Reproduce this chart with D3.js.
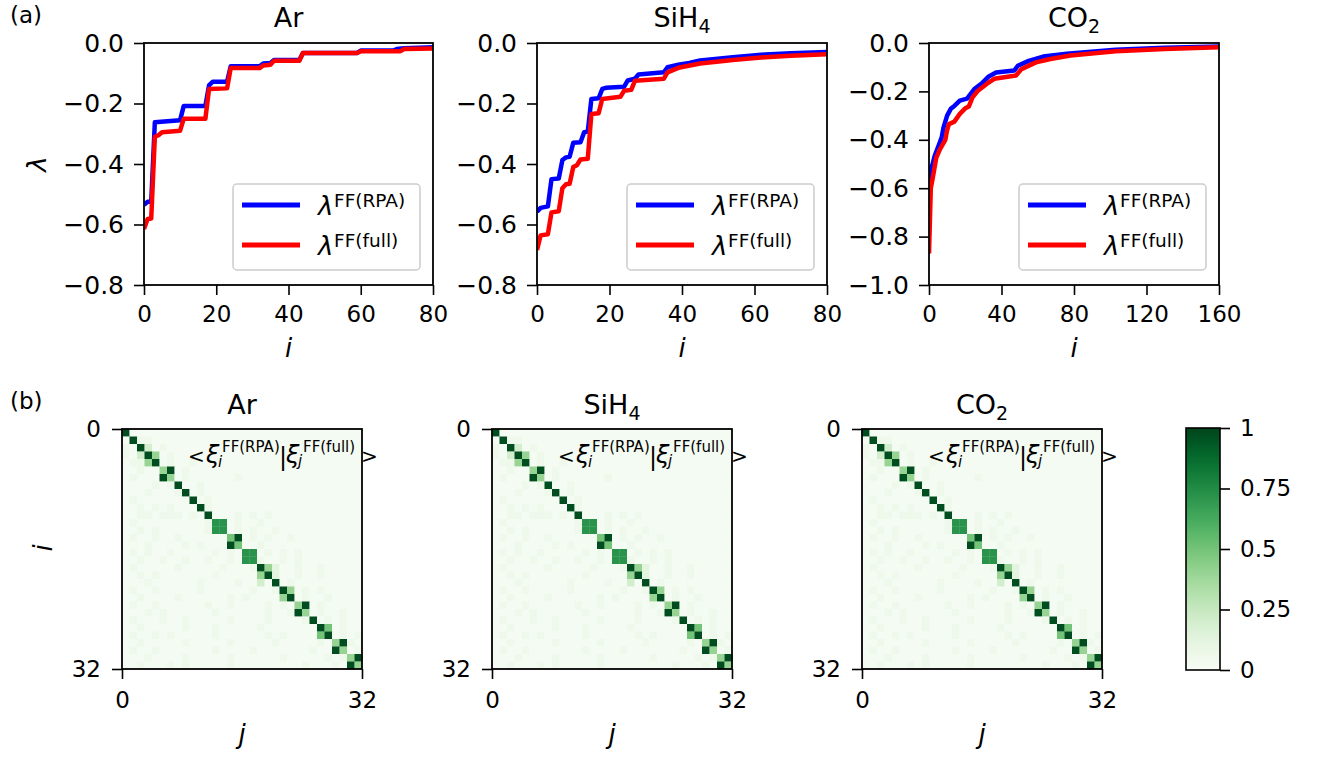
<!DOCTYPE html>
<html>
<head>
<meta charset="utf-8">
<script src="https://cdn.jsdelivr.net/npm/d3@7"></script>
<style>
  body { margin: 0; background: #fff; }
  svg text { font-family: "DejaVu Sans", sans-serif; fill: #000; }
</style>
</head>
<body>
<div id="chart"></div>
<script>
// ---- data ----
const titles = [["Ar", ""], ["SiH", "4"], ["CO", "2"]];

// eigenvalues lambda vs index i, [i, lambda]
const arRPA = [[0,-0.535],[1,-0.525],[2,-0.525],[3,-0.262],[10,-0.255],[11,-0.208],[17,-0.208],[18,-0.14],[19,-0.128],[23,-0.128],[24,-0.077],[32,-0.077],[33,-0.068],[35,-0.066],[36,-0.056],[43,-0.056],[44,-0.033],[59,-0.033],[60,-0.025],[69,-0.025],[70,-0.02],[72,-0.017],[80,-0.014]];
const arFull = [[0,-0.615],[1,-0.582],[2,-0.58],[3,-0.31],[4,-0.305],[5,-0.295],[10,-0.29],[11,-0.25],[17,-0.25],[18,-0.152],[23,-0.15],[24,-0.083],[32,-0.083],[33,-0.074],[35,-0.072],[36,-0.059],[43,-0.059],[44,-0.033],[59,-0.033],[60,-0.027],[71,-0.027],[72,-0.02],[80,-0.018]];

const siRPA = [[0,-0.558],[1,-0.545],[3,-0.54],[4,-0.45],[6,-0.448],[7,-0.387],[8,-0.378],[9,-0.376],[10,-0.33],[12,-0.328],[13,-0.295],[14,-0.293],[15,-0.185],[17,-0.183],[18,-0.152],[19,-0.148],[24,-0.145],[25,-0.124],[27,-0.118],[28,-0.104],[35,-0.097],[36,-0.08],[39,-0.072],[42,-0.066],[45,-0.058],[54,-0.047],[63,-0.038],[70,-0.034],[80,-0.03]];
const siFull = [[0,-0.684],[1,-0.636],[3,-0.632],[4,-0.56],[6,-0.556],[7,-0.48],[8,-0.467],[9,-0.465],[10,-0.41],[11,-0.404],[12,-0.385],[14,-0.383],[15,-0.235],[17,-0.232],[18,-0.185],[23,-0.178],[24,-0.158],[26,-0.155],[27,-0.125],[35,-0.118],[36,-0.097],[39,-0.082],[45,-0.068],[54,-0.056],[63,-0.047],[70,-0.042],[80,-0.037]];

const coRPA = [[0,-0.58],[1,-0.52],[2,-0.5],[3,-0.47],[4,-0.45],[5,-0.43],[6,-0.41],[7,-0.39],[8,-0.35],[10,-0.3],[12,-0.272],[14,-0.26],[17,-0.238],[21,-0.23],[23,-0.21],[25,-0.19],[29,-0.168],[33,-0.138],[37,-0.122],[47,-0.114],[49,-0.094],[55,-0.074],[63,-0.056],[76,-0.044],[103,-0.028],[130,-0.02],[160,-0.014]];
const coFull = [[0,-0.87],[1,-0.6],[2,-0.56],[4,-0.475],[6,-0.44],[9,-0.4],[10,-0.36],[11,-0.335],[14,-0.325],[17,-0.293],[20,-0.27],[22,-0.262],[24,-0.225],[27,-0.197],[32,-0.168],[36,-0.148],[48,-0.134],[51,-0.108],[59,-0.08],[67,-0.066],[78,-0.052],[103,-0.034],[130,-0.025],[160,-0.018]];

const rpaSeries = [arRPA, siRPA, coRPA];
const fullSeries = [arFull, siFull, coFull];

const xDomains = [[0, 80], [0, 80], [0, 160]];
const yDomains = [[-0.8, 0], [-0.8, 0], [-1.0, 0]];
const xTickVals = [[0, 20, 40, 60, 80], [0, 20, 40, 60, 80], [0, 40, 80, 120, 160]];
const yTickVals = [[0, -0.2, -0.4, -0.6, -0.8], [0, -0.2, -0.4, -0.6, -0.8], [0, -0.2, -0.4, -0.6, -0.8, -1.0]];

// overlap |<xi_i^RPA | xi_j^full>|, one string per row i, one char per column j
// (the three panels look the same in the figure)
const levelValue = { ".": 0.02, "1": 0.06, "2": 0.12, "3": 0.2, "5": 0.4, "6": 0.5, "8": 0.72, "9": 0.97 };
const overlapRows = [
  "9",
  ".911",
  "1.93.1",
  "1.395.1",
  ".1159.1..1",
  "..1..59.1",
  ".1...95.1......1",
  "....1.19..1",
  "...1...19.1",
  ".1.......9.1",
  "..1.1.1...91",
  "..11.111.1.9...1.1.1",
  ".1.........188.1..1",
  "..1.1......188.1.1..1",
  ".1..1..1......69.1.1..1",
  "...1....1.1...96..1",
  ".1.1..1.....1.1.88.1.1.1",
  "..1..1..1..1..1.881..1.1",
  ".1.....1.....1...1952..1..1",
  "..1.1.......1.....592..1..1",
  "...1......1....1..3.9.1",
  ".1..1.....1......1..195.1.1",
  "..1....1......1.1....59.1..1",
  ".1..1......1..1....1.1.59.1",
  "...1.1......1......1..195.1..1",
  ".1...1..1.....1....1....19.1.1",
  "..1.....1...1.....1.......96.1",
  ".1..1.1.....1......1.1....69.1.1",
  "..1.....1.....1.....1.....1.591",
  ".1..1.......1....1.......1..95.1",
  "...1....1.....1......1.....1.159",
  "..1...1.1.....1.........1...1.95"
];
const nStates = 32;
const cbTicks = [0, 0.25, 0.5, 0.75, 1];
const cbLabels = ["0", "0.25", "0.5", "0.75", "1"];

// ---- layout ----
const W = 1322, H = 757;
const lineX = [[144, 433], [537, 827], [929, 1219]];
const lineTop = 43, lineBottom = 285;
const heatLeft = [122, 492, 862];
const heatTop = 429, heatSize = 240;

const svg = d3.select("#chart").append("svg")
  .attr("width", W).attr("height", H)
  .style("background", "#fff");

function styleAxis(sel, fontSize) {
  sel.select(".domain").remove();
  sel.selectAll(".tick line").attr("stroke", "#000").attr("stroke-width", 1.6);
  sel.selectAll(".tick text")
    .attr("font-size", fontSize)
    .attr("font-family", "DejaVu Sans")
    .attr("fill", "#000");
}

function title(x, y, parts) {
  const t = svg.append("text")
    .attr("x", x).attr("y", y)
    .attr("text-anchor", "middle")
    .attr("font-size", 27);
  t.append("tspan").text(parts[0]);
  if (parts[1]) t.append("tspan").attr("font-size", 19).attr("dy", 6).text(parts[1]);
}

// panel labels
svg.append("text").attr("x", 10).attr("y", 23).attr("font-size", 23).text("(a)");
svg.append("text").attr("x", 10).attr("y", 409).attr("font-size", 23).text("(b)");

// ---- (a) eigenvalue curves ----
rpaSeries.forEach((rpa, k) => {
  const x = d3.scaleLinear().domain(xDomains[k]).range(lineX[k]);
  const y = d3.scaleLinear().domain(yDomains[k]).range([lineBottom, lineTop]);
  const g = svg.append("g");

  g.append("clipPath").attr("id", "clip" + k)
    .append("rect")
    .attr("x", lineX[k][0]).attr("y", lineTop)
    .attr("width", lineX[k][1] - lineX[k][0]).attr("height", lineBottom - lineTop);

  const line = d3.line().x(d => x(d[0])).y(d => y(d[1]));

  [[rpa, "#0000ff"], [fullSeries[k], "#ff0000"]].forEach(([data, col]) => {
    g.append("path")
      .datum(data)
      .attr("d", line)
      .attr("fill", "none")
      .attr("stroke", col)
      .attr("stroke-width", 4.5)
      .attr("stroke-linejoin", "round")
      .attr("clip-path", `url(#clip${k})`);
  });

  // axes
  g.append("g")
    .attr("transform", `translate(0,${lineBottom})`)
    .call(d3.axisBottom(x).tickValues(xTickVals[k]).tickSize(10).tickPadding(11).tickSizeOuter(0).tickFormat(d3.format("d")))
    .call(s => styleAxis(s, 23));
  g.append("g")
    .attr("transform", `translate(${lineX[k][0]},0)`)
    .call(d3.axisLeft(y).tickValues(yTickVals[k]).tickSize(10).tickPadding(10).tickSizeOuter(0).tickFormat(d3.format(".1f")))
    .call(s => styleAxis(s, 25));

  g.append("rect")
    .attr("x", lineX[k][0]).attr("y", lineTop)
    .attr("width", lineX[k][1] - lineX[k][0]).attr("height", lineBottom - lineTop)
    .attr("fill", "none").attr("stroke", "#000").attr("stroke-width", 1.8);

  // legend
  const bx = lineX[k][1] - 200, by = 184;
  const lg = g.append("g").attr("transform", `translate(${bx},${by})`);
  lg.append("rect")
    .attr("width", 187).attr("height", 86).attr("rx", 4)
    .attr("fill", "#fff").attr("fill-opacity", 0.8)
    .attr("stroke", "#cccccc").attr("stroke-width", 1.5);
  [["#0000ff", "FF(RPA)"], ["#ff0000", "FF(full)"]].forEach(([col, sup], n) => {
    const yy = 21 + n * 40;
    lg.append("line").attr("x1", 9).attr("x2", 67).attr("y1", yy).attr("y2", yy)
      .attr("stroke", col).attr("stroke-width", 5);
    lg.append("text").attr("x", 85).attr("y", yy + 10)
      .attr("font-size", 26).attr("font-style", "italic").text("λ");
    lg.append("text").attr("x", 101).attr("y", yy + 2)
      .attr("font-size", 18.5).text(sup);
  });

  // titles + x label
  const cx = (lineX[k][0] + lineX[k][1]) / 2;
  title(cx, 27, titles[k]);
  svg.append("text").attr("x", cx).attr("y", 357)
    .attr("text-anchor", "middle").attr("font-size", 26).attr("font-style", "italic").text("i");
});

svg.append("text")
  .attr("transform", "translate(46,164) rotate(-90)")
  .attr("text-anchor", "middle").attr("font-size", 26).attr("font-style", "italic").text("λ");

// ---- (b) overlap matrices ----
const color = d3.scaleSequential(d3.interpolateGreens).domain([0, 1]);
const cells = [];
overlapRows.forEach((row, i) => {
  row.padEnd(nStates, ".").split("").forEach((ch, j) => cells.push({ i, j, v: levelValue[ch] }));
});

heatLeft.forEach((hx, k) => {
  const x = d3.scaleLinear().domain([0, nStates]).range([hx, hx + heatSize]);
  const y = d3.scaleLinear().domain([0, nStates]).range([heatTop, heatTop + heatSize]);
  const g = svg.append("g");

  g.selectAll("rect.cell")
    .data(cells)
    .join("rect")
    .attr("class", "cell")
    .attr("x", d => x(d.j)).attr("y", d => y(d.i))
    .attr("width", x(1) - x(0) + 0.3).attr("height", y(1) - y(0) + 0.3)
    .attr("fill", d => color(d.v));

  g.append("g")
    .attr("transform", `translate(0,${heatTop + heatSize})`)
    .call(d3.axisBottom(x).tickValues([0, nStates]).tickSize(10).tickPadding(13).tickSizeOuter(0))
    .call(s => styleAxis(s, 23));
  g.append("g")
    .attr("transform", `translate(${hx},0)`)
    .call(d3.axisLeft(y).tickValues([0, nStates]).tickSize(10).tickPadding(11).tickSizeOuter(0))
    .call(s => styleAxis(s, 23));

  g.append("rect")
    .attr("x", hx).attr("y", heatTop).attr("width", heatSize).attr("height", heatSize)
    .attr("fill", "none").attr("stroke", "#000").attr("stroke-width", 1.8);

  // annotation  < xi_i^FF(RPA) | xi_j^FF(full) >
  const ann = [
    { t: "<", dx: 66, y: 463, fs: 20 },
    { t: "ξ", dx: 84, y: 463, fs: 24, it: true },
    { t: "i", dx: 96, y: 467, fs: 15, it: true },
    { t: "FF(RPA)", dx: 100, y: 452, fs: 15 },
    { t: "|", dx: 157, y: 465, fs: 24 },
    { t: "ξ", dx: 164, y: 463, fs: 24, it: true },
    { t: "j", dx: 176, y: 466, fs: 15, it: true },
    { t: "FF(full)", dx: 181, y: 452, fs: 15 },
    { t: ">", dx: 239, y: 463, fs: 20 }
  ];
  ann.forEach(a => {
    g.append("text").attr("x", hx + a.dx).attr("y", a.y)
      .attr("font-size", a.fs).attr("font-style", a.it ? "italic" : "normal").text(a.t);
  });

  const cx = hx + heatSize / 2;
  title(cx, 414, titles[k]);
  svg.append("text").attr("x", cx).attr("y", 743)
    .attr("text-anchor", "middle").attr("font-size", 26).attr("font-style", "italic").text("j");
});

svg.append("text")
  .attr("transform", "translate(52,548) rotate(-90)")
  .attr("text-anchor", "middle").attr("font-size", 26).attr("font-style", "italic").text("i");

// ---- colorbar ----
const cbX = 1186, cbW = 34, cbTop = 428, cbBottom = 670;
const grad = svg.append("defs").append("linearGradient")
  .attr("id", "cbgrad").attr("x1", 0).attr("x2", 0).attr("y1", 1).attr("y2", 0);
d3.range(0, 1.0001, 0.05).forEach(t => {
  grad.append("stop").attr("offset", t).attr("stop-color", color(t));
});
svg.append("rect")
  .attr("x", cbX).attr("y", cbTop).attr("width", cbW).attr("height", cbBottom - cbTop)
  .attr("fill", "url(#cbgrad)").attr("stroke", "#000").attr("stroke-width", 1.6);
const cbScale = d3.scaleLinear().domain([0, 1]).range([cbBottom, cbTop]);
svg.append("g")
  .attr("transform", `translate(${cbX + cbW},0)`)
  .call(d3.axisRight(cbScale).tickValues(cbTicks).tickSize(10).tickPadding(10).tickSizeOuter(0)
    .tickFormat((d, n) => cbLabels[n]))
  .call(s => styleAxis(s, 23));
</script>
</body>
</html>
